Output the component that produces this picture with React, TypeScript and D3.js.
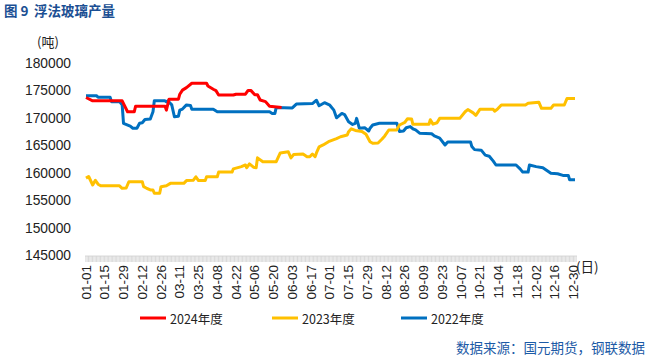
import React from 'react';
import * as d3 from 'd3';

// x positions are day indices on the daily category axis (0 = 01-01, 365 = 12-31)
const tickLabels = ['01-01','01-15','01-29','02-12','02-26','03-11','03-25','04-08','04-22','05-06','05-20','06-03','06-17','07-01','07-15','07-29','08-12','08-26','09-09','09-23','10-07','10-21','11-04','11-18','12-02','12-16','12-30'];
const yTicks = [145000, 150000, 155000, 160000, 165000, 170000, 175000, 180000];

const days2024 = [0,5,27,31,36,37,59,60,62,69,70,72,75,79,90,91,95,97,99,110,112,119,121,123,126,128,130,134,137,146];
const values2024 = [173800,173200,173200,171200,171200,172200,172200,171500,173500,173500,174400,175150,175600,176400,176400,175900,175300,175050,174250,174250,174400,174400,175100,175100,174300,174300,173350,173050,172200,172000];

const days2023 = [0,2,5,7,9,11,25,27,30,32,42,43,45,48,50,51,55,56,60,63,73,75,80,82,84,89,90,98,99,109,110,116,119,120,122,125,127,128,132,142,145,151,153,155,162,165,167,169,171,172,174,177,181,187,190,195,196,198,201,206,209,212,214,218,221,223,226,232,234,238,240,243,244,256,257,259,262,264,279,283,285,289,291,294,304,305,307,310,328,330,338,340,347,349,357,359,365];
const values2023 = [159100,159400,157850,158700,158000,157700,157700,157250,157300,158450,158450,157550,157300,156950,156950,156350,156350,157550,157700,158150,158150,158650,158700,159350,158650,158650,159350,159350,160200,160200,160800,161200,161500,161000,161700,161100,161000,162800,162100,162100,163700,163900,162800,163400,163500,163000,163000,163500,163000,163700,164800,165150,165750,166300,166650,166970,167570,168100,167800,167600,167100,165750,165450,165500,166240,166800,167880,167900,168790,169250,169950,169900,168920,168920,169750,168950,169200,170000,170000,171200,171600,171000,170550,171650,171650,171300,171650,172440,172440,172750,172950,171830,171830,172440,172440,173600,173600];

const days2022 = [0,8,9,18,19,25,27,28,33,35,38,40,42,44,48,50,51,59,60,61,64,66,69,70,72,75,78,79,95,98,137,139,141,142,154,157,169,172,174,178,182,185,187,191,193,196,199,201,202,204,208,211,212,214,219,232,234,237,239,242,244,246,249,258,260,264,268,270,287,288,290,295,298,301,304,306,321,324,326,330,331,336,341,344,347,352,356,360,361,365];
const values2022 = [174100,174100,173850,173850,173050,173050,172450,169100,168600,168200,168200,169100,169200,169800,169900,171200,173200,173200,173000,173200,172450,170300,170400,171500,171700,172450,172350,171650,171650,171200,171200,170900,170900,172000,171900,172600,172700,173300,172300,172850,172400,171500,170100,170900,170700,169400,168900,169100,170000,168200,168300,167700,168200,168800,169100,169100,167600,167700,168300,168500,168100,167900,167300,167200,166800,166400,165150,165700,165700,164850,164300,164200,163300,163100,162200,161500,161500,160800,160200,160200,161500,161200,161000,160500,160000,159900,159600,159600,158800,158800];

const seriesNames = ['2024年度', '2023年度', '2022年度'];
const seriesColors = ['#FF0000', '#FFC000', '#0070C0'];

const W = 650, H = 360;
const FONT = '"Liberation Sans", Arial, "Noto Sans CJK SC", sans-serif';
const CJK = '"Noto Sans CJK SC", "Liberation Sans", sans-serif';

export default function App() {
  const x = d3.scaleLinear().domain([0, 365]).range([86, 575]);
  const y = d3.scaleLinear().domain([145000, 180000]).range([255.5, 63.5]);
  const line = d3.line<[number, number]>().x(d => x(d[0])).y(d => y(d[1]));
  const series = [
    days2024.map((d, i) => [d, values2024[i]] as [number, number]),
    days2023.map((d, i) => [d, values2023[i]] as [number, number]),
    days2022.map((d, i) => [d, values2022[i]] as [number, number]),
  ];
  const dayTicks = d3.range(0, 367);
  const legendX = [140, 272, 401];
  return (
    <svg width={W} height={H} style={{ position: 'absolute', left: 0, top: 0, background: '#fff' }}>
      <text x={4} y={16} fontFamily={CJK} fontSize={13.5} fontWeight="bold" fill="#1B4F93">图 9</text>
      <text x={34} y={16} fontFamily={CJK} fontSize={13.5} fontWeight="bold" fill="#1B4F93">浮法玻璃产量</text>
      <text x={37} y={47} fontFamily={CJK} fontSize={13} fill="#222">(吨)</text>
      {yTicks.map(t => (
        <text key={t} x={71} y={y(t)} textAnchor="end" dominantBaseline="central" fontFamily={FONT} fontSize={13.8} fill="#222">{t}</text>
      ))}
      <line x1={85} x2={577} y1={256} y2={256} stroke="#d9d9d9" strokeWidth={1} />
      {dayTicks.map(d => (
        <line key={d} x1={x(d - 0.5) + 0.5} x2={x(d - 0.5) + 0.5} y1={256} y2={262} stroke="#d0d0d0" strokeWidth={0.8} />
      ))}
      {tickLabels.map((l, i) => (
        <text key={l} transform={`translate(${x(i * 14)},265) rotate(-90)`} textAnchor="end" dominantBaseline="central" fontFamily={FONT} fontSize={13.5} fill="#222">{l}</text>
      ))}
      <text x={576} y={272} fontFamily={CJK} fontSize={13.5} fill="#222">(日)</text>
      {[2, 1, 0].map(i => (
        <path key={i} d={line(series[i]) || ''} fill="none" stroke={seriesColors[i]} strokeWidth={3} strokeLinejoin="round" />
      ))}
      {seriesNames.map((n, i) => (
        <g key={n}>
          <line x1={legendX[i]} x2={legendX[i] + 26} y1={318} y2={318} stroke={seriesColors[i]} strokeWidth={3} />
          <text x={legendX[i] + 30} y={318} dominantBaseline="central" fontFamily={CJK} fontSize={12.5} fill="#222">{n}</text>
        </g>
      ))}
      <text x={645} y={347} textAnchor="end" dominantBaseline="central" fontFamily={CJK} fontSize={13.5} fill="#1B5AA6">数据来源：国元期货，钢联数据</text>
    </svg>
  );
}
